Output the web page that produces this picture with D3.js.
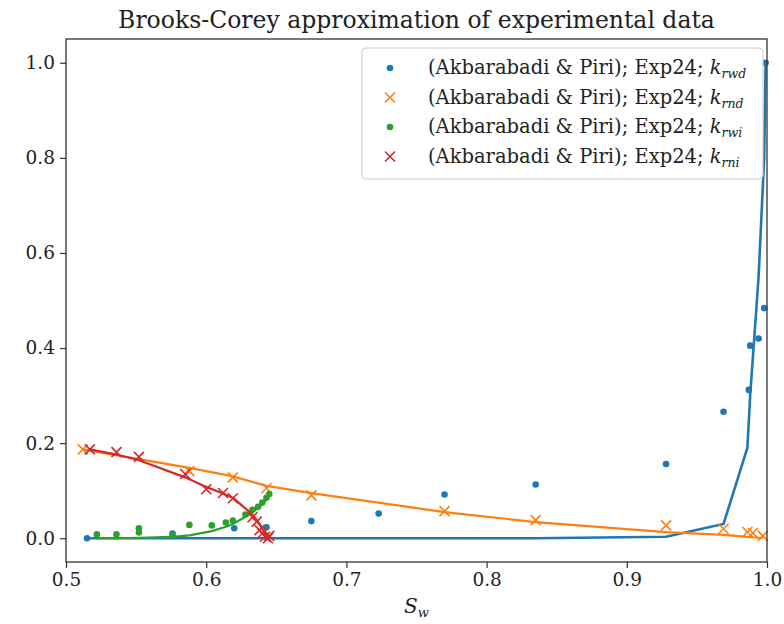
<!DOCTYPE html>
<html lang="en">
<head>
    <meta charset="UTF-8">
    <title>Brooks-Corey approximation</title>
    <script src="https://d3js.org/d3.v7.min.js"></script>
    <style>
        html, body {
            margin: 0;
            background: #fff;
        }
        svg text {
            font-family: "DejaVu Serif", serif;
            fill: #222;
        }
    </style>
</head>
<body>
    <div id="vis"></div>
    <script>

        // measured points, [Sw, kr]
        var krwdPoints = [[0.515, 0.0], [0.576, 0.01], [0.620, 0.021], [0.643, 0.023], [0.675, 0.036],
            [0.723, 0.052], [0.770, 0.092], [0.835, 0.113], [0.928, 0.156], [0.969, 0.266],
            [0.987, 0.312], [0.988, 0.405], [0.994, 0.42], [0.998, 0.484], [0.999, 1.0]];
        var krndPoints = [[0.512, 0.187], [0.588, 0.141], [0.619, 0.128], [0.643, 0.105], [0.675, 0.09],
            [0.770, 0.057], [0.835, 0.038], [0.928, 0.027], [0.969, 0.02], [0.986, 0.013],
            [0.990, 0.011], [0.997, 0.005]];
        var krwiPoints = [[0.522, 0.008], [0.536, 0.008], [0.552, 0.012], [0.552, 0.021], [0.576, 0.006],
            [0.588, 0.028], [0.604, 0.027], [0.614, 0.033], [0.619, 0.037], [0.628, 0.05],
            [0.633, 0.06], [0.637, 0.066], [0.640, 0.075], [0.643, 0.085], [0.645, 0.093]];
        var krniPoints = [[0.517, 0.187], [0.536, 0.181], [0.552, 0.171], [0.585, 0.135], [0.600, 0.103],
            [0.612, 0.095], [0.619, 0.084], [0.633, 0.044], [0.636, 0.035], [0.638, 0.017],
            [0.640, 0.010], [0.642, 0.003], [0.644, 0.0], [0.645, 0.005]];

        // Brooks-Corey fit, evaluated at the measured Sw
        var krwdFit = [[0.515, 0], [0.576, 0], [0.620, 0], [0.643, 0], [0.675, 0], [0.723, 0], [0.770, 0],
            [0.835, 0], [0.928, 0.003], [0.969, 0.03], [0.986, 0.19], [0.988, 0.3], [0.994, 0.55],
            [0.998, 0.8], [0.999, 1.0]];
        var krndFit = [[0.512, 0.187], [0.588, 0.148], [0.619, 0.130], [0.643, 0.110], [0.675, 0.095],
            [0.770, 0.055], [0.835, 0.034], [0.928, 0.013], [0.969, 0.007], [0.986, 0.003],
            [0.990, 0.002], [0.997, 0.0]];
        var krwiFit = [[0.522, 0.0], [0.536, 0.0], [0.552, 0.001], [0.576, 0.003], [0.588, 0.006],
            [0.604, 0.015], [0.614, 0.024], [0.619, 0.03], [0.628, 0.045], [0.633, 0.055],
            [0.637, 0.063], [0.640, 0.072], [0.643, 0.082], [0.645, 0.092]];
        var krniFit = [[0.517, 0.187], [0.536, 0.176], [0.552, 0.164], [0.585, 0.128], [0.600, 0.108],
            [0.612, 0.094], [0.619, 0.085], [0.633, 0.05], [0.638, 0.03], [0.641, 0.015],
            [0.643, 0.005], [0.645, 0.0]];

        var xTicks = [0.5, 0.6, 0.7, 0.8, 0.9, 1.0];
        var yTicks = [0.0, 0.2, 0.4, 0.6, 0.8, 1.0];
        var legendSubs = ["rwd", "rnd", "rwi", "rni"];
        var legendLabel = "(Akbarabadi & Piri); Exp24; ";

        var series = [
            {points: krwdPoints, fit: krwdFit, color: "#1f77b4", marker: "dot"},
            {points: krndPoints, fit: krndFit, color: "#ff7f0e", marker: "x"},
            {points: krwiPoints, fit: krwiFit, color: "#2ca02c", marker: "dot"},
            {points: krniPoints, fit: krniFit, color: "#d62728", marker: "x"}
        ];

        var W = 784, H = 624;
        var margin = {top: 39, right: 17, bottom: 62, left: 66};
        var width = W - margin.left - margin.right;
        var height = H - margin.top - margin.bottom;

        var svg = d3.select("#vis").append("svg")
            .attr("width", W)
            .attr("height", H);

        var g = svg.append("g")
            .attr("transform", "translate(" + margin.left + "," + margin.top + ")");

        var x = d3.scaleLinear().domain([0.5, 1.0]).range([0, width]);
        var y = d3.scaleLinear().domain([-0.05, 1.05]).range([height, 0]);

        var line = d3.line()
            .x(function(d) { return x(d[0]); })
            .y(function(d) { return y(d[1]); });

        var plot = g.append("g");

        series.forEach(function(s) {
            var pts = plot.append("g");
            if (s.marker == "dot") {
                pts.selectAll("circle")
                    .data(s.points)
                    .enter()
                    .append("circle")
                    .attr("cx", function(d) { return x(d[0]); })
                    .attr("cy", function(d) { return y(d[1]); })
                    .attr("r", 3.3)
                    .attr("fill", s.color);
            } else {
                pts.selectAll("path")
                    .data(s.points)
                    .enter()
                    .append("path")
                    .attr("d", function(d) {
                        var cx = x(d[0]), cy = y(d[1]), r = 5;
                        return "M" + (cx - r) + "," + (cy - r) + "L" + (cx + r) + "," + (cy + r) +
                            "M" + (cx - r) + "," + (cy + r) + "L" + (cx + r) + "," + (cy - r);
                    })
                    .attr("stroke", s.color)
                    .attr("stroke-width", 1.6)
                    .attr("fill", "none");
            }
            plot.append("path")
                .datum(s.fit)
                .attr("d", line)
                .attr("fill", "none")
                .attr("stroke", s.color)
                .attr("stroke-width", s.color == "#1f77b4" ? 2.6 : 2.2);
        });

        // axes
        var xAxis = g.append("g")
            .attr("transform", "translate(0," + height + ")")
            .call(d3.axisBottom(x).tickValues(xTicks).tickFormat(d3.format(".1f")).tickSize(6).tickPadding(5));
        var yAxis = g.append("g")
            .call(d3.axisLeft(y).tickValues(yTicks).tickFormat(d3.format(".1f")).tickSize(6).tickPadding(5));

        [xAxis, yAxis].forEach(function(a) {
            a.select(".domain").remove();
            a.selectAll("line").attr("stroke", "#333").attr("stroke-width", 1.2);
            a.selectAll("text").attr("font-size", 18.5).attr("fill", "#222");
        });

        g.append("rect")
            .attr("width", width)
            .attr("height", height)
            .attr("fill", "none")
            .attr("stroke", "#333")
            .attr("stroke-width", 1.3);

        // title and axis label
        svg.append("text")
            .attr("x", margin.left + width / 2)
            .attr("y", 28)
            .attr("text-anchor", "middle")
            .attr("font-size", 23.5)
            .text("Brooks-Corey approximation of experimental data");

        var xl = svg.append("text")
            .attr("x", margin.left + width / 2)
            .attr("y", 613)
            .attr("text-anchor", "middle")
            .attr("font-size", 20)
            .attr("font-style", "italic");
        xl.append("tspan").text("S");
        xl.append("tspan").attr("font-size", 13).attr("dy", 4).text("w");

        // legend
        var legend = g.append("g")
            .attr("transform", "translate(" + (x(0.5) + 296) + ",9)");
        legend.append("rect")
            .attr("width", 401)
            .attr("height", 131)
            .attr("rx", 4)
            .attr("fill", "#fff")
            .attr("fill-opacity", 0.8)
            .attr("stroke", "#ccc");

        series.forEach(function(s, i) {
            var row = legend.append("g")
                .attr("transform", "translate(0," + (20 + i * 29.5) + ")");
            if (s.marker == "dot") {
                row.append("circle").attr("cx", 28).attr("cy", 0).attr("r", 3.3).attr("fill", s.color);
            } else {
                row.append("path")
                    .attr("d", "M23,-5L33,5M23,5L33,-5")
                    .attr("stroke", s.color)
                    .attr("stroke-width", 1.6);
            }
            var t = row.append("text")
                .attr("x", 66)
                .attr("y", 6)
                .attr("font-size", 19.5);
            t.append("tspan").text(legendLabel);
            t.append("tspan").attr("font-style", "italic").text("k");
            t.append("tspan").attr("font-style", "italic").attr("font-size", 12.5).attr("dy", 4).text(legendSubs[i]);
        });

    </script>
</body>
</html>
